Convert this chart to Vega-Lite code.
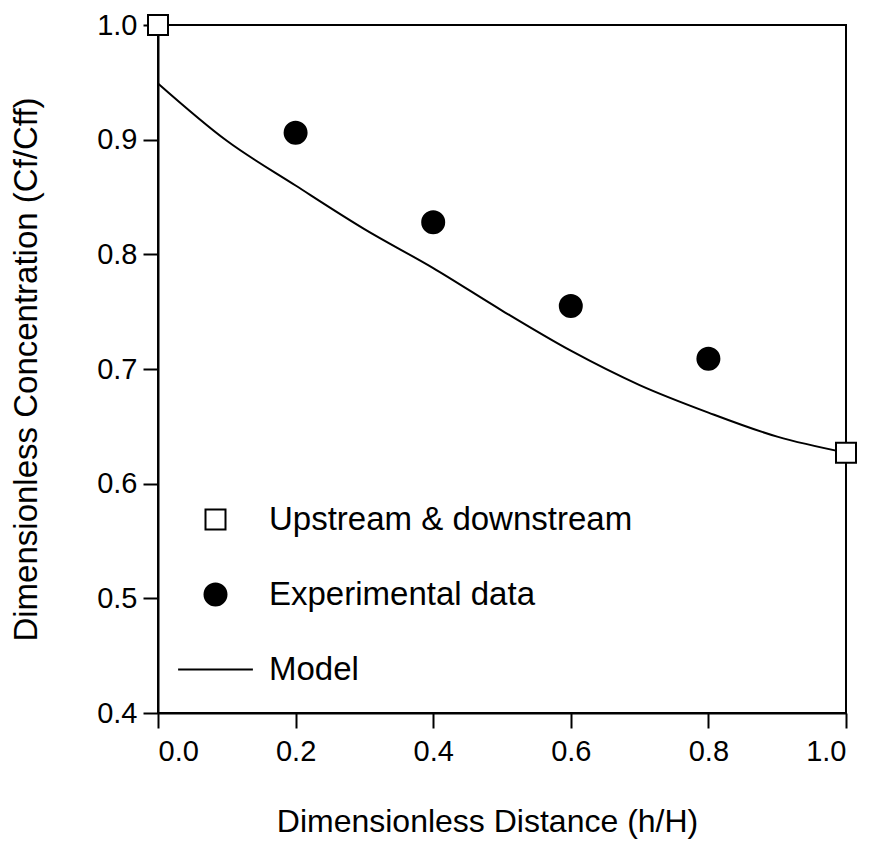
{
  "$schema": "https://vega.github.io/schema/vega-lite/v6.json",
  "width": 688,
  "height": 688,
  "autosize": {"type": "none"},
  "padding": {"left": 158, "top": 25, "right": 28, "bottom": 144},
  "background": "white",
  "config": {
    "font": "Liberation Sans",
    "view": {"stroke": "black", "strokeWidth": 2},
    "axis": {
      "domainColor": "black",
      "domainWidth": 2,
      "tickColor": "black",
      "tickWidth": 2,
      "tickSize": 15,
      "labelFont": "Liberation Sans",
      "labelFontSize": 29,
      "labelColor": "black",
      "labelPadding": 6,
      "titleFont": "Liberation Sans",
      "titleFontWeight": "normal",
      "titleColor": "black",
      "grid": false
    }
  },
  "datasets": {
    "points": [
      {"h": 0.0, "c": 1.0, "series": "Upstream & downstream"},
      {"h": 1.0, "c": 0.627, "series": "Upstream & downstream"},
      {"h": 0.2, "c": 0.906, "series": "Experimental data"},
      {"h": 0.4, "c": 0.828, "series": "Experimental data"},
      {"h": 0.6, "c": 0.755, "series": "Experimental data"},
      {"h": 0.8, "c": 0.709, "series": "Experimental data"}
    ],
    "model": [
      {"h": 0.0, "c": 0.949},
      {"h": 0.1, "c": 0.899},
      {"h": 0.2, "c": 0.860},
      {"h": 0.3, "c": 0.822},
      {"h": 0.4, "c": 0.788},
      {"h": 0.5, "c": 0.751},
      {"h": 0.6, "c": 0.716},
      {"h": 0.7, "c": 0.686},
      {"h": 0.8, "c": 0.662},
      {"h": 0.9, "c": 0.641},
      {"h": 1.0, "c": 0.627}
    ]
  },
  "layer": [
    {
      "data": {"name": "model"},
      "mark": {"type": "line", "color": "black", "strokeWidth": 2, "interpolate": "monotone"},
      "encoding": {
        "x": {"field": "h", "type": "quantitative"},
        "y": {"field": "c", "type": "quantitative"}
      }
    },
    {
      "data": {"name": "points"},
      "mark": {"type": "point", "stroke": "black", "strokeWidth": 2, "opacity": 1},
      "encoding": {
        "x": {
          "field": "h",
          "type": "quantitative",
          "scale": {"domain": [0, 1], "nice": false},
          "axis": {"values": [0, 0.2, 0.4, 0.6, 0.8, 1.0], "format": ".1f", "title": "Dimensionless Distance (h/H)", "titleFontSize": 32, "titlePadding": 40, "labelPadding": 9, "titleX": 329}
        },
        "y": {
          "field": "c",
          "type": "quantitative",
          "scale": {"domain": [0.4, 1.0], "nice": false, "zero": false},
          "axis": {"values": [0.4, 0.5, 0.6, 0.7, 0.8, 0.9, 1.0], "format": ".1f", "title": "Dimensionless Concentration (Cf/Cff)", "titleFontSize": 33, "titlePadding": 53}
        },
        "shape": {
          "field": "series",
          "type": "nominal",
          "scale": {"domain": ["Upstream & downstream", "Experimental data", "Model"], "range": ["square", "circle", "M-3.4,0H3.4"]},
          "legend": {
            "title": null,
            "orient": "none",
            "legendX": 41,
            "legendY": 478,
            "labelFontSize": 33,
            "labelFont": "Liberation Sans",
            "labelColor": "black",
            "labelOffset": 37,
            "labelLimit": 0,
            "rowPadding": 41,
            "gridAlign": "all",
            "symbolStrokeColor": "black",
            "symbolStrokeWidth": 2
          }
        },
        "fill": {
          "field": "series",
          "type": "nominal",
          "scale": {"domain": ["Upstream & downstream", "Experimental data", "Model"], "range": ["white", "black", "white"]},
          "legend": {"title": null}
        },
        "size": {
          "field": "series",
          "type": "nominal",
          "scale": {"type": "ordinal", "domain": ["Upstream & downstream", "Experimental data", "Model"], "range": [400, 484, 484]},
          "legend": {"title": null}
        }
      }
    }
  ]
}
